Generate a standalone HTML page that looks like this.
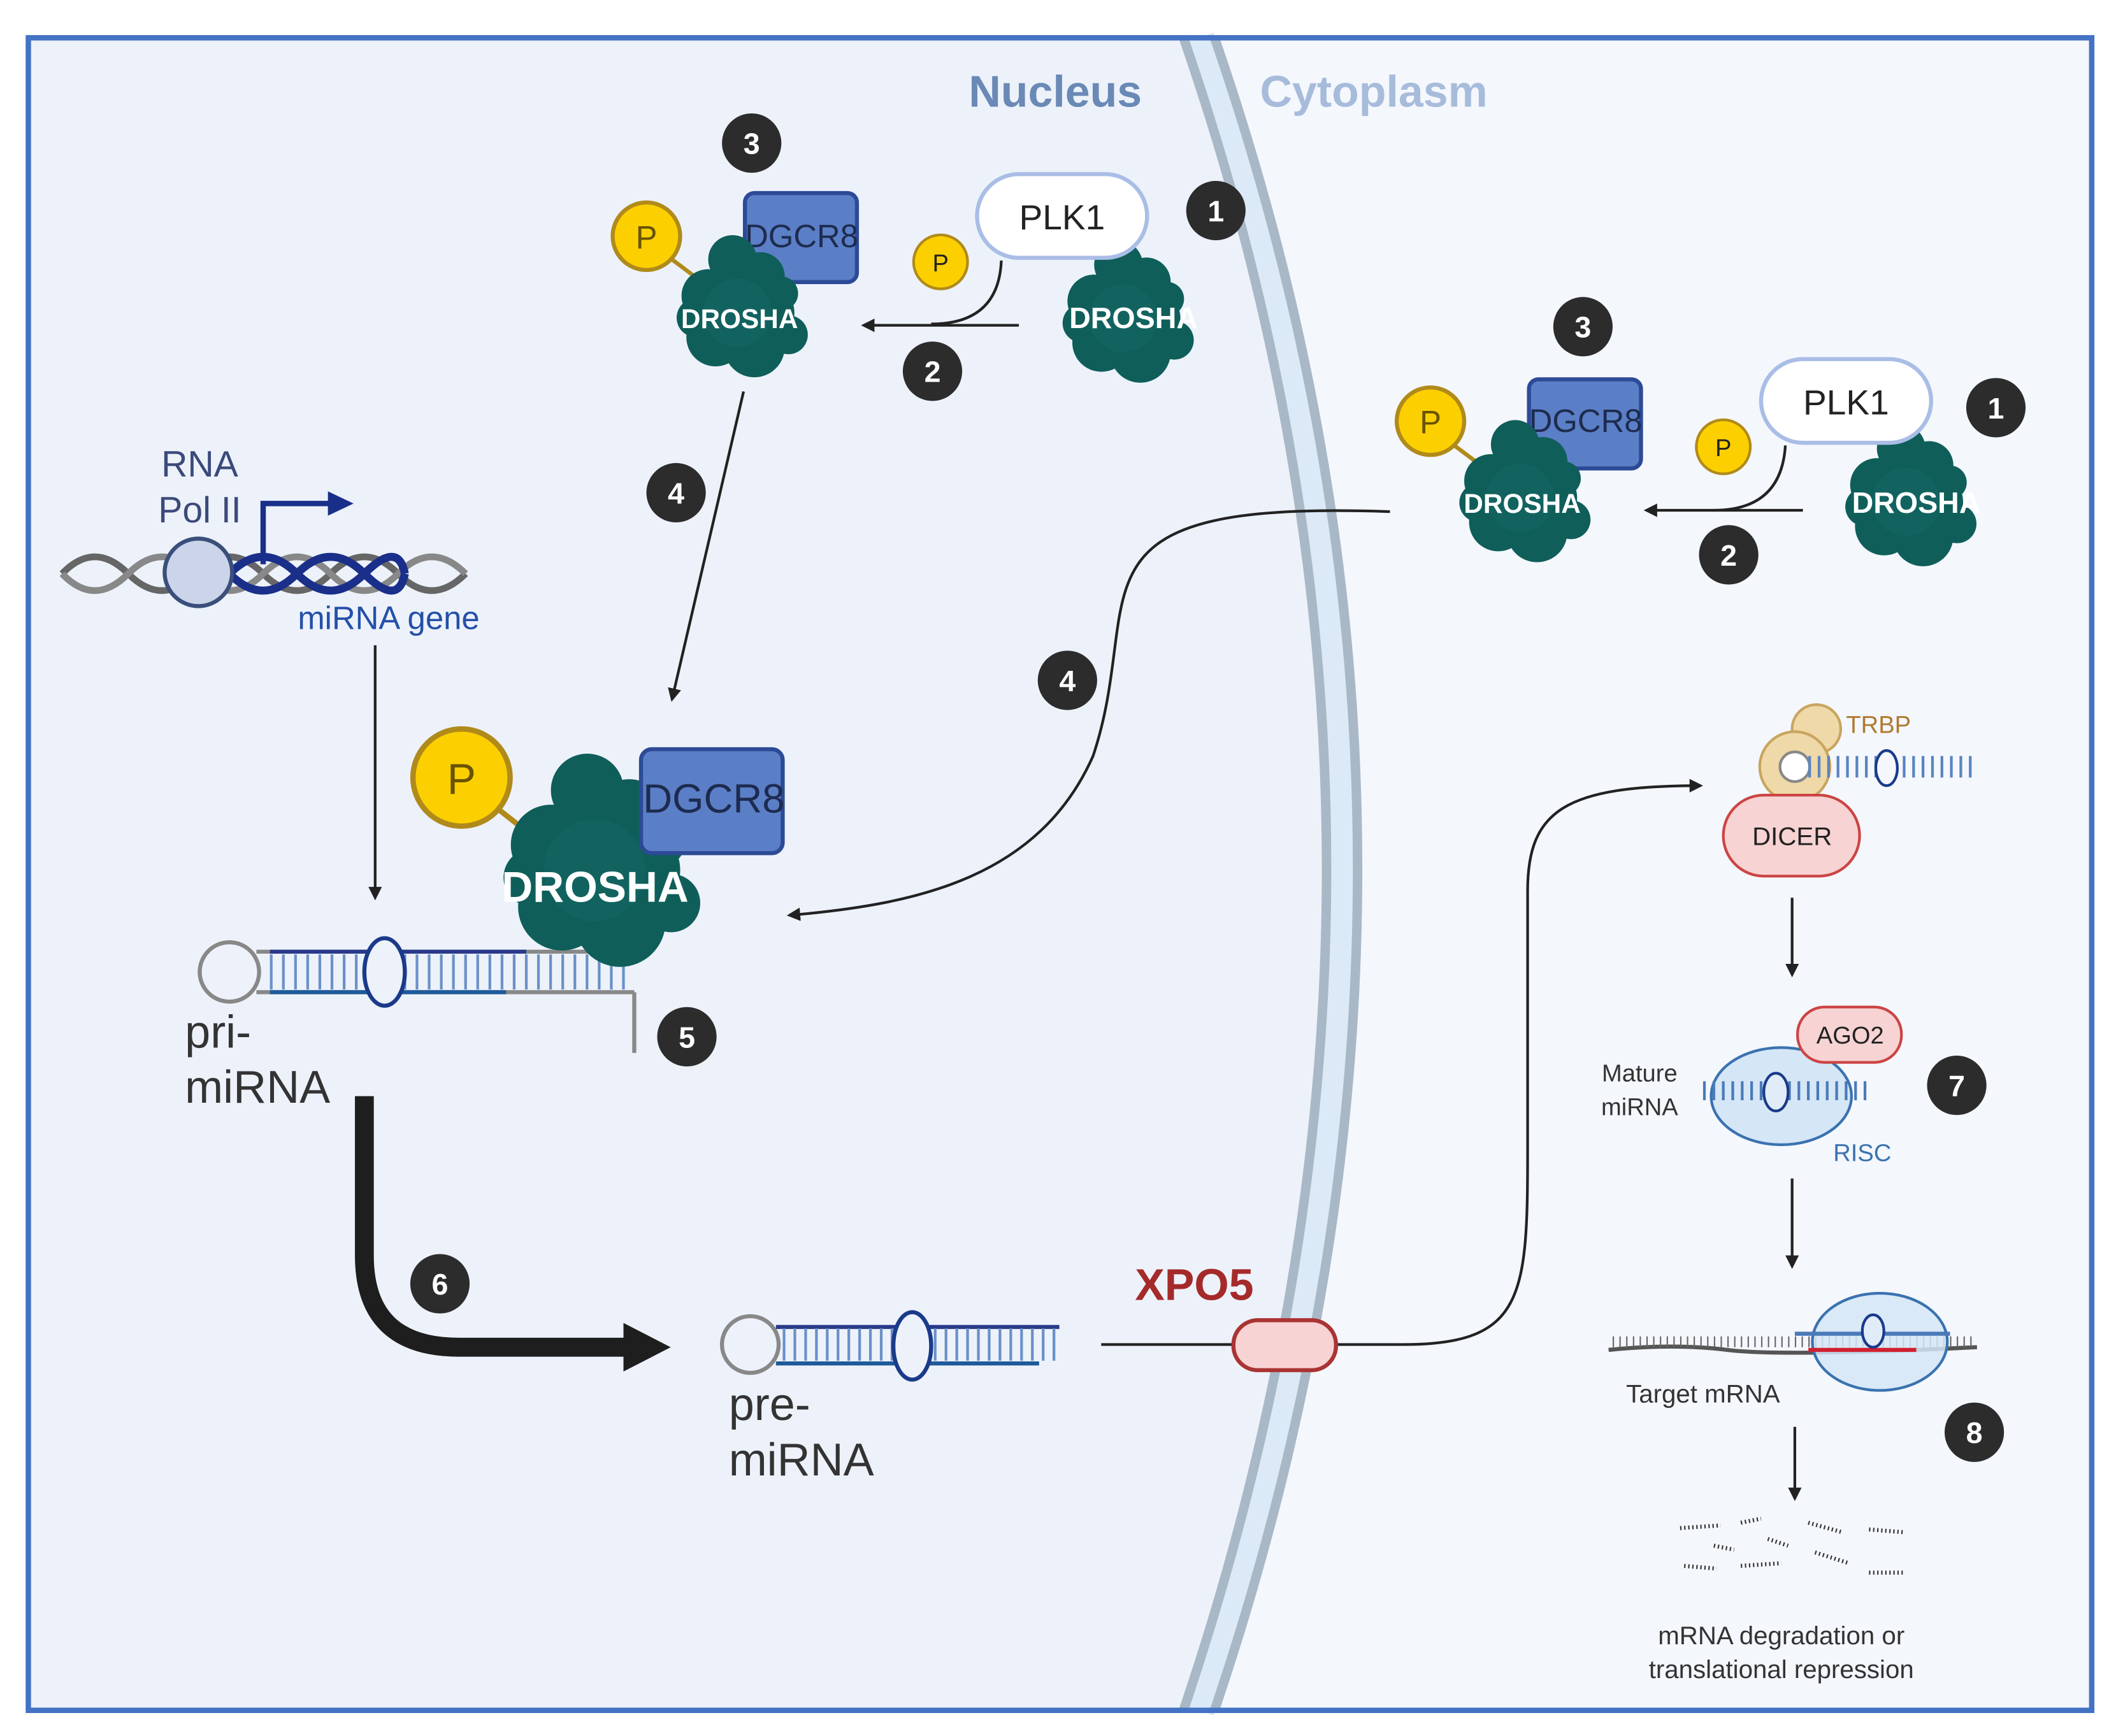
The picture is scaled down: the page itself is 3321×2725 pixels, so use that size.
<!DOCTYPE html>
<html><head><meta charset="utf-8"><style>
html,body{margin:0;padding:0;background:#fff}
svg{display:block}
text{font-family:"Liberation Sans",sans-serif}
</style></head><body>
<svg width="3321" height="2725" viewBox="0 0 1568 1286" preserveAspectRatio="none" xmlns="http://www.w3.org/2000/svg">
<defs>
<g id="blob">
<circle cx="-8" cy="-42" r="20" fill="#0f5e5a"/>
<circle cx="15" cy="-28" r="20" fill="#0f5e5a"/>
<circle cx="-28" cy="-12" r="22" fill="#0f5e5a"/>
<circle cx="18" cy="2" r="25" fill="#0f5e5a"/>
<circle cx="-22" cy="22" r="24" fill="#0f5e5a"/>
<circle cx="10" cy="30" r="25" fill="#0f5e5a"/>
<circle cx="-38" cy="6" r="16" fill="#0f5e5a"/>
<circle cx="38" cy="20" r="16" fill="#0f5e5a"/>
<circle cx="32" cy="-14" r="14" fill="#0f5e5a"/>
<circle cx="-4" cy="2" r="28" fill="#126360"/>
</g>
<g id="num"><circle r="22" fill="#2c2c2c"/></g>
<marker id="ah" markerWidth="10" markerHeight="10" refX="8" refY="5" orient="auto" markerUnits="userSpaceOnUse"><path d="M0,0 L10,5 L0,10 z" fill="#222"/></marker>
</defs>
<rect x="0" y="0" width="1568" height="1286" fill="#fff"/>
<rect x="21" y="28" width="1529" height="1239" fill="#edf2fa"/>
<path d="M900,28 Q1112,640 900,1267 L1550,1267 L1550,28 Z" fill="#f4f7fc"/>
<!-- membrane -->
<path d="M888,28 Q1100,640 888,1267" fill="none" stroke="#dce9f7" stroke-width="24"/>
<path d="M877,28 Q1089,640 877,1267" fill="none" stroke="#a9b8c6" stroke-width="7"/>
<path d="M900,28 Q1112,640 900,1267" fill="none" stroke="#a9b8c6" stroke-width="7"/>
<rect x="21" y="28" width="1529" height="1239" fill="none" stroke="#4472c4" stroke-width="4"/>
<text x="782" y="79" font-size="33" font-weight="bold" fill="#6a89b6" text-anchor="middle">Nucleus</text>
<text x="1018" y="79" font-size="33" font-weight="bold" fill="#a7bcdb" text-anchor="middle">Cytoplasm</text>

<!-- top nuclear complex -->
<rect x="552" y="143" width="83" height="66" rx="7" fill="#5b7fc6" stroke="#2c4a96" stroke-width="3"/>
<text x="594" y="183" font-size="24" fill="#1d2b50" text-anchor="middle">DGCR8</text>
<line x1="495" y1="190" x2="515" y2="205" stroke="#b08a1a" stroke-width="3"/>
<circle cx="479" cy="175" r="25" fill="#fcd000" stroke="#b08a1a" stroke-width="3"/>
<text x="479" y="184" font-size="24" fill="#6a5300" text-anchor="middle">P</text>
<g transform="translate(550,230) scale(0.9)"><use href="#blob"/></g>
<text x="548" y="243" font-size="20" font-weight="bold" fill="#fff" text-anchor="middle">DROSHA</text>
<g transform="translate(836,234) scale(0.9)"><use href="#blob"/></g>
<text x="840" y="243" font-size="22" font-weight="bold" fill="#fff" text-anchor="middle">DROSHA</text>
<rect x="724" y="129" width="126" height="62" rx="31" fill="#fff" stroke="#a9bde6" stroke-width="3"/>
<text x="787" y="170" font-size="26" fill="#222" text-anchor="middle">PLK1</text>
<path d="M742,193 Q740,240 690,240" fill="none" stroke="#222" stroke-width="2"/>
<circle cx="697" cy="194" r="20" fill="#fcd000" stroke="#b08a1a" stroke-width="2"/>
<text x="697" y="201" font-size="18" fill="#222" text-anchor="middle">P</text>
<line x1="755" y1="241" x2="640" y2="241" stroke="#222" stroke-width="2" marker-end="url(#ah)"/>
<use href="#num" x="557" y="106"/><text x="557" y="114" font-size="22" font-weight="bold" fill="#fff" text-anchor="middle">3</text>
<use href="#num" x="901" y="156"/><text x="901" y="164" font-size="22" font-weight="bold" fill="#fff" text-anchor="middle">1</text>
<use href="#num" x="691" y="275"/><text x="691" y="283" font-size="22" font-weight="bold" fill="#fff" text-anchor="middle">2</text>
<line x1="551" y1="290" x2="498" y2="518" stroke="#222" stroke-width="2" marker-end="url(#ah)"/>
<use href="#num" x="501" y="365"/><text x="501" y="373" font-size="22" font-weight="bold" fill="#fff" text-anchor="middle">4</text>

<!-- cytoplasm complex -->
<rect x="1133" y="281" width="83" height="66" rx="7" fill="#5b7fc6" stroke="#2c4a96" stroke-width="3"/>
<text x="1175" y="320" font-size="24" fill="#1d2b50" text-anchor="middle">DGCR8</text>
<line x1="1075" y1="328" x2="1095" y2="343" stroke="#b08a1a" stroke-width="3"/>
<circle cx="1060" cy="312" r="25" fill="#fcd000" stroke="#b08a1a" stroke-width="3"/>
<text x="1060" y="321" font-size="24" fill="#6a5300" text-anchor="middle">P</text>
<g transform="translate(1130,367) scale(0.9)"><use href="#blob"/></g>
<text x="1128" y="380" font-size="20" font-weight="bold" fill="#fff" text-anchor="middle">DROSHA</text>
<g transform="translate(1416,370) scale(0.9)"><use href="#blob"/></g>
<text x="1420" y="380" font-size="22" font-weight="bold" fill="#fff" text-anchor="middle">DROSHA</text>
<rect x="1305" y="266" width="126" height="62" rx="31" fill="#fff" stroke="#a9bde6" stroke-width="3"/>
<text x="1368" y="307" font-size="26" fill="#222" text-anchor="middle">PLK1</text>
<path d="M1323,330 Q1320,378 1270,378" fill="none" stroke="#222" stroke-width="2"/>
<circle cx="1277" cy="331" r="20" fill="#fcd000" stroke="#b08a1a" stroke-width="2"/>
<text x="1277" y="338" font-size="18" fill="#222" text-anchor="middle">P</text>
<line x1="1336" y1="378" x2="1220" y2="378" stroke="#222" stroke-width="2" marker-end="url(#ah)"/>
<use href="#num" x="1173" y="242"/><text x="1173" y="250" font-size="22" font-weight="bold" fill="#fff" text-anchor="middle">3</text>
<use href="#num" x="1479" y="302"/><text x="1479" y="310" font-size="22" font-weight="bold" fill="#fff" text-anchor="middle">1</text>
<use href="#num" x="1281" y="411"/><text x="1281" y="419" font-size="22" font-weight="bold" fill="#fff" text-anchor="middle">2</text>
<path d="M1030,379 C780,370 850,440 810,560 C770,650 680,670 585,678" fill="none" stroke="#222" stroke-width="2" marker-end="url(#ah)"/>
<use href="#num" x="791" y="504"/><text x="791" y="512" font-size="22" font-weight="bold" fill="#fff" text-anchor="middle">4</text>

<!-- DNA -->
<path d="M46,425 Q70,400 95,425 T145,425 T195,425 T245,425 T295,425 T345,425" fill="none" stroke="#666" stroke-width="5"/>
<path d="M46,425 Q70,450 95,425 T145,425 T195,425 T245,425 T295,425 T345,425" fill="none" stroke="#888" stroke-width="5"/>
<path d="M170,425 Q195,400 220,425 T270,425 T300,425" fill="none" stroke="#1a2f8a" stroke-width="6"/>
<path d="M170,425 Q195,450 220,425 T270,425 T300,425" fill="none" stroke="#1a2f8a" stroke-width="6"/>
<circle cx="147" cy="424" r="25" fill="#ccd4ea" stroke="#3a4f7a" stroke-width="3"/>
<path d="M195,418 V373 H245" fill="none" stroke="#1a2f8a" stroke-width="4"/>
<path d="M243,364 L262,373 L243,382 Z" fill="#1a2f8a"/>
<text x="148" y="353" font-size="27" fill="#3b4a7a" text-anchor="middle">RNA</text>
<text x="148" y="387" font-size="27" fill="#3b4a7a" text-anchor="middle">Pol II</text>
<text x="288" y="466" font-size="24" fill="#2450a8" text-anchor="middle">miRNA gene</text>
<line x1="278" y1="478" x2="278" y2="665" stroke="#222" stroke-width="2" marker-end="url(#ah)"/>

<!-- pri-miRNA -->
<circle cx="170" cy="720" r="22" fill="none" stroke="#888" stroke-width="3"/>
<line x1="190" y1="705" x2="470" y2="705" stroke="#888" stroke-width="3"/>
<line x1="190" y1="735" x2="470" y2="735" stroke="#888" stroke-width="3"/>
<line x1="200" y1="705" x2="390" y2="705" stroke="#2a3a8a" stroke-width="3"/>
<line x1="200" y1="735" x2="375" y2="735" stroke="#1c5a9a" stroke-width="3"/>
<path d="M200,720 H470" stroke="#6a90c8" stroke-width="26" stroke-dasharray="2,7" fill="none"/>
<ellipse cx="285" cy="720" rx="15" ry="25" fill="#edf2fa" stroke="#1a3a8a" stroke-width="3"/>
<line x1="470" y1="735" x2="470" y2="780" stroke="#888" stroke-width="3"/>
<text x="137" y="776" font-size="34" fill="#333">pri-</text>
<text x="137" y="817" font-size="34" fill="#333">miRNA</text>
<!-- big complex -->
<line x1="370" y1="600" x2="398" y2="622" stroke="#b08a1a" stroke-width="4"/>
<circle cx="342" cy="576" r="36" fill="#fcd000" stroke="#b08a1a" stroke-width="4"/>
<text x="342" y="588" font-size="32" fill="#6a5300" text-anchor="middle">P</text>
<g transform="translate(446,642) scale(1.35)"><use href="#blob"/></g>
<rect x="475" y="555" width="105" height="77" rx="8" fill="#5b7fc6" stroke="#2c4a96" stroke-width="3"/>
<text x="529" y="602" font-size="30" fill="#1d2b50" text-anchor="middle">DGCR8</text>
<text x="441" y="668" font-size="32" font-weight="bold" fill="#fff" text-anchor="middle">DROSHA</text>
<use href="#num" x="509" y="768"/><text x="509" y="776" font-size="22" font-weight="bold" fill="#fff" text-anchor="middle">5</text>

<!-- arrow 6 -->
<path d="M270,812 V930 Q270,998 340,998 H465" fill="none" stroke="#1e1e1e" stroke-width="14"/>
<path d="M462,980 L497,998 L462,1016 Z" fill="#1e1e1e"/>
<use href="#num" x="326" y="951"/><text x="326" y="959" font-size="22" font-weight="bold" fill="#fff" text-anchor="middle">6</text>

<!-- pre-miRNA -->
<circle cx="556" cy="996" r="21" fill="none" stroke="#888" stroke-width="3"/>
<line x1="575" y1="983" x2="785" y2="983" stroke="#2a3a8a" stroke-width="3"/>
<line x1="575" y1="1010" x2="770" y2="1010" stroke="#1c5a9a" stroke-width="3"/>
<path d="M580,996 H785" stroke="#6a90c8" stroke-width="24" stroke-dasharray="2,6" fill="none"/>
<ellipse cx="676" cy="997" rx="14" ry="25" fill="#edf2fa" stroke="#1a3a8a" stroke-width="3"/>
<text x="540" y="1052" font-size="34" fill="#333">pre-</text>
<text x="540" y="1093" font-size="34" fill="#333">miRNA</text>
<path d="M816,996 H1040 C1130,996 1132,960 1132,850 V660 C1132,600 1160,582 1260,582" fill="none" stroke="#222" stroke-width="2" marker-end="url(#ah)"/>
<rect x="914" y="978" width="76" height="37" rx="18" fill="#f7d3d3" stroke="#a33" stroke-width="3"/>
<text x="885" y="963" font-size="33" font-weight="bold" fill="#a52a2a" text-anchor="middle">XPO5</text>

<!-- Dicer -->
<circle cx="1346" cy="540" r="18" fill="#efd9a8" stroke="#c9a55e" stroke-width="2"/>
<circle cx="1330" cy="568" r="26" fill="#efd9a8" stroke="#c9a55e" stroke-width="2"/>
<circle cx="1330" cy="568" r="11" fill="#fff" stroke="#888" stroke-width="2"/>
<path d="M1340,568 H1462" stroke="#5a84c0" stroke-width="16" stroke-dasharray="2,5" fill="none"/>
<ellipse cx="1398" cy="569" rx="8" ry="13" fill="#f4f7fc" stroke="#1a3a8a" stroke-width="2"/>
<text x="1368" y="543" font-size="18" fill="#b07a30">TRBP</text>
<rect x="1277" y="589" width="101" height="60" rx="30" fill="#f7d3d3" stroke="#c44" stroke-width="2"/>
<text x="1328" y="626" font-size="19" fill="#222" text-anchor="middle">DICER</text>
<line x1="1328" y1="665" x2="1328" y2="722" stroke="#222" stroke-width="2" marker-end="url(#ah)"/>

<!-- RISC -->
<ellipse cx="1320" cy="812" rx="52" ry="36" fill="#d5e6f7" stroke="#3a72b0" stroke-width="2"/>
<path d="M1262,808 H1385" stroke="#4a7ab8" stroke-width="14" stroke-dasharray="2,5" fill="none"/>
<ellipse cx="1316" cy="809" rx="9" ry="14" fill="#e0ecf8" stroke="#1a3a8a" stroke-width="2"/>
<rect x="1332" y="746" width="77" height="41" rx="20" fill="#f7d3d3" stroke="#c44" stroke-width="2"/>
<text x="1371" y="773" font-size="18" fill="#222" text-anchor="middle">AGO2</text>
<text x="1215" y="801" font-size="18" fill="#333" text-anchor="middle">Mature</text>
<text x="1215" y="826" font-size="18" fill="#333" text-anchor="middle">miRNA</text>
<text x="1380" y="860" font-size="18" fill="#3a72b0" text-anchor="middle">RISC</text>
<use href="#num" x="1450" y="804"/><text x="1450" y="812" font-size="22" font-weight="bold" fill="#fff" text-anchor="middle">7</text>
<line x1="1328" y1="873" x2="1328" y2="938" stroke="#222" stroke-width="2" marker-end="url(#ah)"/>

<!-- target -->
<path d="M1192,1000 Q1240,995 1280,1000 T1465,998" fill="none" stroke="#555" stroke-width="3"/>
<path d="M1195,994 H1465" stroke="#666" stroke-width="8" stroke-dasharray="1,4" fill="none"/>
<ellipse cx="1393" cy="994" rx="50" ry="36" fill="#d5e6f7" stroke="#3a72b0" stroke-width="2" fill-opacity="0.85"/>
<line x1="1330" y1="988" x2="1445" y2="988" stroke="#4a7ab8" stroke-width="3"/>
<line x1="1340" y1="1000" x2="1420" y2="1000" stroke="#d02030" stroke-width="3"/>
<ellipse cx="1388" cy="986" rx="8" ry="12" fill="#e0ecf8" stroke="#1a3a8a" stroke-width="2"/>
<text x="1262" y="1039" font-size="19" fill="#333" text-anchor="middle">Target mRNA</text>
<use href="#num" x="1463" y="1061"/><text x="1463" y="1069" font-size="22" font-weight="bold" fill="#fff" text-anchor="middle">8</text>
<line x1="1330" y1="1057" x2="1330" y2="1110" stroke="#222" stroke-width="2" marker-end="url(#ah)"/>
<g stroke="#333" stroke-width="3" stroke-dasharray="1,2">
<line x1="1245" y1="1132" x2="1275" y2="1130"/><line x1="1290" y1="1128" x2="1305" y2="1125"/>
<line x1="1340" y1="1128" x2="1365" y2="1135"/><line x1="1385" y1="1133" x2="1410" y2="1135"/>
<line x1="1248" y1="1160" x2="1272" y2="1162"/><line x1="1290" y1="1160" x2="1320" y2="1158"/>
<line x1="1345" y1="1150" x2="1370" y2="1158"/><line x1="1385" y1="1165" x2="1412" y2="1165"/>
<line x1="1310" y1="1140" x2="1325" y2="1145"/><line x1="1270" y1="1145" x2="1285" y2="1148"/>
</g>
<text x="1320" y="1218" font-size="19" fill="#333" text-anchor="middle">mRNA degradation or</text>
<text x="1320" y="1243" font-size="19" fill="#333" text-anchor="middle">translational repression</text>
</svg>
</body></html>
